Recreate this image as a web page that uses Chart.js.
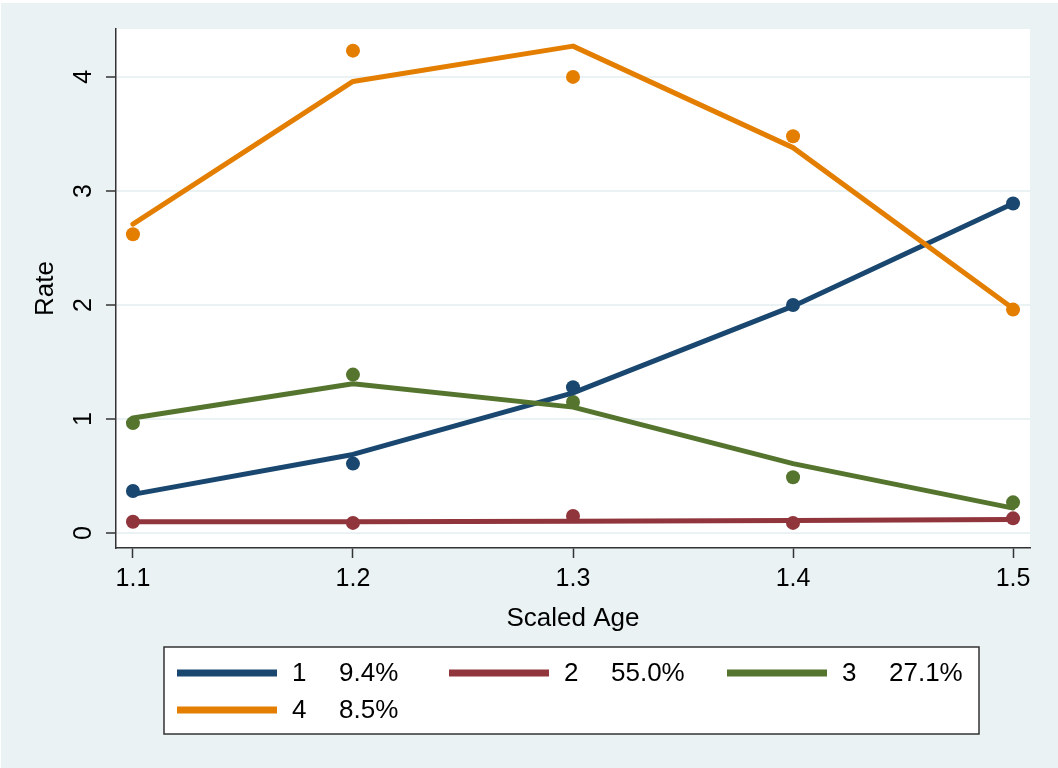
<!DOCTYPE html>
<html>
<head>
<meta charset="utf-8">
<title>Rate by scaled age</title>
<script src="https://cdn.jsdelivr.net/npm/chart.js@4.4.0/dist/chart.umd.min.js"></script>
<style>
    html, body { margin: 0; padding: 0; background: #ffffff; }
    #wrap { width: 1058px; height: 768px; }
</style>
</head>
<body>
<div id="wrap"><canvas id="rateChart" width="1058" height="768"></canvas></div>
<script>
// Chart data
const ages = [1.1, 1.2, 1.3, 1.4, 1.5];
const xTicks = [1.1, 1.2, 1.3, 1.4, 1.5];
const yTicks = [0, 1, 2, 3, 4];

const classLabels = ['1', '2', '3', '4'];
const classShares = ['9.4%', '55.0%', '27.1%', '8.5%'];
const classColors = ['#1A476F', '#90353B', '#55752F', '#E37E00'];

// fitted lines per class
const fitted1 = [0.34, 0.69, 1.23, 1.99, 2.89];
const fitted2 = [0.10, 0.10, 0.105, 0.11, 0.12];
const fitted3 = [1.01, 1.31, 1.105, 0.61, 0.22];
const fitted4 = [2.71, 3.96, 4.27, 3.38, 1.97];

// observed rates (dots) per class
const observed1 = [0.37, 0.61, 1.28, 2.00, 2.89];
const observed2 = [0.10, 0.09, 0.15, 0.09, 0.13];
const observed3 = [0.965, 1.39, 1.15, 0.49, 0.27];
const observed4 = [2.62, 4.23, 4.00, 3.48, 1.96];

const fittedSeries = [fitted1, fitted2, fitted3, fitted4];
const observedSeries = [observed1, observed2, observed3, observed4];

const FONT = '"Liberation Sans", Arial, Helvetica, sans-serif';
const AXIS_COLOR = '#333333';
const GRID_COLOR = '#EAF2F3';
const BG_COLOR = '#EAF2F3';

function toPoints(values) {
    return ages.map((x, i) => ({ x: x, y: values[i] }));
}

const datasets = [];
classLabels.forEach((label, i) => {
    datasets.push({
        type: 'line',
        label: label,
        data: toPoints(fittedSeries[i]),
        borderColor: classColors[i],
        backgroundColor: classColors[i],
        borderWidth: 5,
        borderJoinStyle: 'round',
        borderCapStyle: 'round',
        pointRadius: 0,
        tension: 0,
        fill: false,
        order: 10 - i
    });
    datasets.push({
        type: 'scatter',
        label: label + ' observed',
        data: toPoints(observedSeries[i]),
        backgroundColor: classColors[i],
        borderWidth: 0,
        pointRadius: 7,
        showLine: false,
        order: 20 - i
    });
});

// background, white plot region and rotated y tick labels
const backdropPlugin = {
    id: 'backdrop',
    beforeDraw(chart) {
        const { ctx, chartArea } = chart;
        ctx.save();
        ctx.fillStyle = '#ffffff';
        ctx.fillRect(0, 0, chart.width, chart.height);
        ctx.fillStyle = BG_COLOR;
        ctx.fillRect(1, 3, chart.width - 1, chart.height - 3);
        ctx.fillStyle = '#ffffff';
        ctx.fillRect(chartArea.left, chartArea.top,
            chartArea.right - chartArea.left, chartArea.bottom - chartArea.top);
        ctx.restore();
    },
    afterDraw(chart) {
        const { ctx } = chart;
        const yScale = chart.scales.y;
        ctx.save();
        ctx.fillStyle = '#000000';
        ctx.font = '25px ' + FONT;
        ctx.textAlign = 'center';
        ctx.textBaseline = 'middle';
        yTicks.forEach(v => {
            const py = yScale.getPixelForValue(v);
            ctx.save();
            ctx.translate(84, py);
            ctx.rotate(-Math.PI / 2);
            ctx.fillText(String(v), 0, 0);
            ctx.restore();
        });
        ctx.restore();
    }
};

// legend box under the plot, same layout as the reference
const boxLegendPlugin = {
    id: 'boxLegend',
    afterDraw(chart) {
        const { ctx } = chart;
        const box = { left: 164, top: 647, right: 979, bottom: 734 };
        const colX = [177, 449, 727];
        const rowY = [673, 710];

        ctx.save();
        ctx.fillStyle = '#ffffff';
        ctx.fillRect(box.left, box.top, box.right - box.left, box.bottom - box.top);
        ctx.strokeStyle = AXIS_COLOR;
        ctx.lineWidth = 1.5;
        ctx.strokeRect(box.left, box.top, box.right - box.left, box.bottom - box.top);

        ctx.font = '26px ' + FONT;
        ctx.textAlign = 'left';
        ctx.textBaseline = 'middle';
        classLabels.forEach((label, i) => {
            const x = colX[i % 3];
            const y = rowY[Math.floor(i / 3)];
            ctx.strokeStyle = classColors[i];
            ctx.lineWidth = 7;
            ctx.lineCap = 'butt';
            ctx.beginPath();
            ctx.moveTo(x, y);
            ctx.lineTo(x + 100, y);
            ctx.stroke();
            ctx.fillStyle = '#000000';
            ctx.fillText(label, x + 115, y + 1);
            ctx.fillText(classShares[i], x + 162, y + 1);
        });
        ctx.restore();
    }
};

const ctx = document.getElementById('rateChart');
new Chart(ctx.getContext('2d'), {
    type: 'line',
    data: { datasets: datasets },
    options: {
        responsive: false,
        animation: false,
        devicePixelRatio: 1,
        layout: {
            padding: { left: 0, top: 29, right: 28, bottom: 130 }
        },
        plugins: {
            legend: { display: false },
            tooltip: { enabled: false },
            title: { display: false }
        },
        scales: {
            x: {
                type: 'linear',
                min: 1.0923,
                max: 1.5077,
                afterBuildTicks: function(scale) {
                    scale.ticks = xTicks.map(v => ({ value: v }));
                },
                afterFit: function(scale) {
                    scale.height = 90;
                },
                ticks: {
                    autoSkip: false,
                    maxRotation: 0,
                    color: '#000000',
                    padding: 6,
                    font: { family: FONT, size: 25 },
                    callback: function(value) {
                        return value.toFixed(1);
                    }
                },
                grid: {
                    drawOnChartArea: false,
                    drawTicks: true,
                    tickLength: 10,
                    tickColor: AXIS_COLOR,
                    tickWidth: 1.5
                },
                border: { display: true, color: AXIS_COLOR, width: 1.5 },
                title: {
                    display: true,
                    text: 'Scaled Age',
                    color: '#000000',
                    font: { family: FONT, size: 26 },
                    padding: { top: 0, bottom: 4 }
                }
            },
            y: {
                type: 'linear',
                min: -0.13,
                max: 4.42,
                afterBuildTicks: function(scale) {
                    scale.ticks = yTicks.map(v => ({ value: v }));
                },
                afterFit: function(scale) {
                    scale.width = 116;
                },
                ticks: {
                    display: false
                },
                grid: {
                    drawOnChartArea: true,
                    color: GRID_COLOR,
                    lineWidth: 2,
                    drawTicks: true,
                    tickLength: 10,
                    tickColor: AXIS_COLOR,
                    tickWidth: 1.5
                },
                border: { display: true, color: AXIS_COLOR, width: 1.5 },
                title: {
                    display: true,
                    text: 'Rate',
                    color: '#000000',
                    font: { family: FONT, size: 26 },
                    padding: { top: 30, bottom: 0 }
                }
            }
        }
    },
    plugins: [backdropPlugin, boxLegendPlugin]
});
</script>
</body>
</html>
